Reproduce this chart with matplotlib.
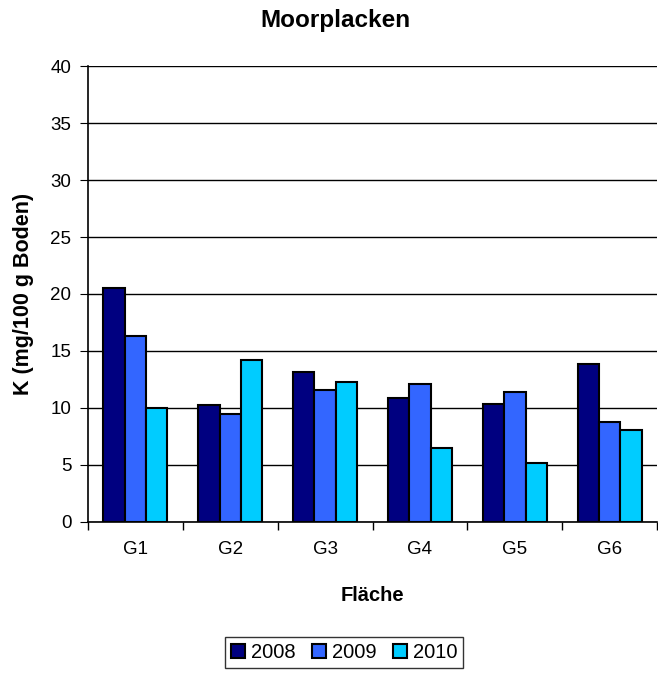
import numpy as np
import matplotlib.pyplot as plt

plt.rcParams['font.family'] = ['Liberation Sans', 'DejaVu Sans']

##### data
flaechen = ['G1', 'G2', 'G3', 'G4', 'G5', 'G6']
jahre = ['2008', '2009', '2010']
k_2008 = [20.5, 10.3, 13.2, 10.9, 10.35, 13.85]
k_2009 = [16.3, 9.5, 11.55, 12.1, 11.4, 8.75]
k_2010 = [10.0, 14.2, 12.3, 6.45, 5.2, 8.05]
farben = ['#000080', '#3366FF', '#00CCFF']

##### plotting
fig = plt.figure(figsize=[6.58, 6.75], dpi=100)
ax = fig.add_axes([0.1337, 0.2267, 0.865, 0.6755])

x = np.arange(len(flaechen))
w = 0.225
for i, (werte, jahr) in enumerate(zip([k_2008, k_2009, k_2010], jahre)):
    ax.bar(x + (i - 1) * w, werte, width=w, color=farben[i],
           edgecolor='black', linewidth=1.5, label=jahr, zorder=3)

# horizontal gridlines, Excel style axes
ax.set_ylim(0, 40)
ax.set_yticks(np.arange(0, 41, 5))
ax.yaxis.grid(True, color='black', linewidth=1, zorder=0)
ax.set_xlim(-0.5, len(flaechen) - 0.5)
ax.set_xticks(x)
ax.set_xticklabels(flaechen)
ax.set_xticks(np.arange(-0.5, len(flaechen)), minor=True)
ax.tick_params(axis='x', which='major', length=0, pad=14, labelsize=13.5)
ax.tick_params(axis='x', which='minor', length=6, direction='out', width=1)
ax.tick_params(axis='y', length=6, direction='out', labelsize=13.5, pad=6)
for s in ['top', 'right']:
    ax.spines[s].set_visible(False)
ax.spines['left'].set_linewidth(1.2)
ax.spines['bottom'].set_linewidth(1.2)

ax.set_xlabel('Fläche', fontsize=14.5, fontweight='bold', labelpad=20)
ax.set_ylabel('K (mg/100 g Boden)', fontsize=15.5, fontweight='bold', labelpad=12)
fig.suptitle('Moorplacken', fontsize=17.5, fontweight='bold', x=0.51, y=0.986)

leg = fig.legend(loc='lower center', bbox_to_anchor=(0.523, -0.005), ncol=3,
                 fontsize=14.5, frameon=True, fancybox=False, edgecolor='black',
                 handlelength=0.7, handleheight=0.7, handletextpad=0.3,
                 columnspacing=0.8, borderpad=0.3)
leg.get_frame().set_linewidth(1)

plt.savefig('out.png', dpi=100)
